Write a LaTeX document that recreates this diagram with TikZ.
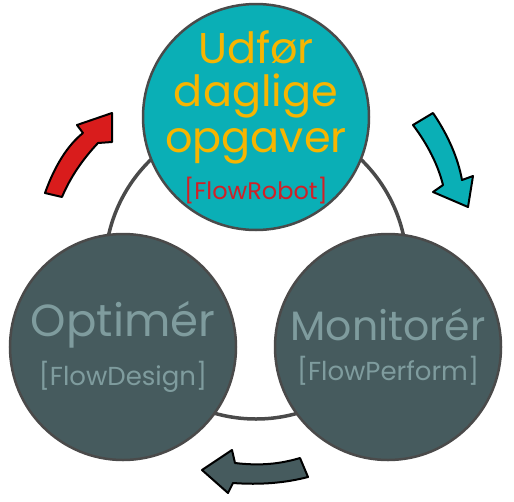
\documentclass[tikz,border=0pt]{standalone}
\usepackage{fontspec}
\setmainfont{Poppins}
\definecolor{robotteal}{HTML}{0AAFB6}
\definecolor{slatedark}{HTML}{465B5E}
\definecolor{slatetext}{HTML}{7F9C9E}
\definecolor{ringgray}{HTML}{4A4A4A}
\definecolor{taskyellow}{HTML}{F7B500}
\definecolor{robotred}{HTML}{D21F26}
\definecolor{arrowred}{HTML}{D91C1C}
\newcommand{\bigword}{\fontsize{43}{46}\selectfont}
\newcommand{\tagword}{\fontsize{26}{28}\selectfont}
\newcommand{\robotword}{\fontsize{24}{26}\selectfont}
\begin{document}
\begin{tikzpicture}[x=1pt,y=-1pt,
    stage/.style={circle,draw=ringgray,line width=2.5pt,minimum size=226pt,inner sep=0pt},
    stagetext/.style={align=center,inner sep=0pt,text=slatetext},
    flowarrow/.style={draw=black,line width=2pt,line join=round}]
        \useasboundingbox (0,0) rectangle (514,501);
        \coordinate (hub) at (256,268);
        \draw[ringgray,line width=3.5pt] (hub) circle (151);
        \node[stage,fill=slatedark] (design) at (123,347) {};
        \node[stage,fill=slatedark] (perform) at (388,347) {};
        \node[stage,fill=robotteal] (robot) at (256,117) {};
        \node[stagetext] (designtext) at (design)
            {\fontsize{45}{48}\selectfont Optimér\\[12pt]\tagword {[FlowDesign]}};
        \node[stagetext] (performtext) at (perform)
            {\fontsize{41}{44}\selectfont Monitorér\\[14pt]\tagword {[FlowPerform]}};
        \node[align=center,inner sep=0pt] (robottext) at (robot)
            {\color{taskyellow}\bigword Udfør\\[9pt]\color{taskyellow}\bigword daglige\\[9pt]\color{taskyellow}\bigword opgaver\\[12pt]\color{robotred}\robotword {[FlowRobot]}};
        % arrows round the cycle
        \draw[flowarrow,fill=arrowred] (45,193) .. controls (55,165) and (68,145) .. (83,133)
            -- (77,125) -- (112,113) -- (112,142) -- (98,143)
            .. controls (82,160) and (70,178) .. (62,197) -- cycle;
        \draw[flowarrow,fill=robotteal] (413,125) -- (433,113) .. controls (448,135) and (458,158) .. (462,180)
            -- (473,176) -- (468,207) -- (433,192) -- (443,185)
            .. controls (438,165) and (428,145) .. (413,125) -- cycle;
        \draw[flowarrow,fill=slatedark] (202,470) -- (232,450) -- (235,463)
            .. controls (260,466) and (280,464) .. (300,458) -- (308,477)
            .. controls (285,483) and (260,485) .. (233,483) -- (228,493) -- cycle;
\end{tikzpicture}
\end{document}
